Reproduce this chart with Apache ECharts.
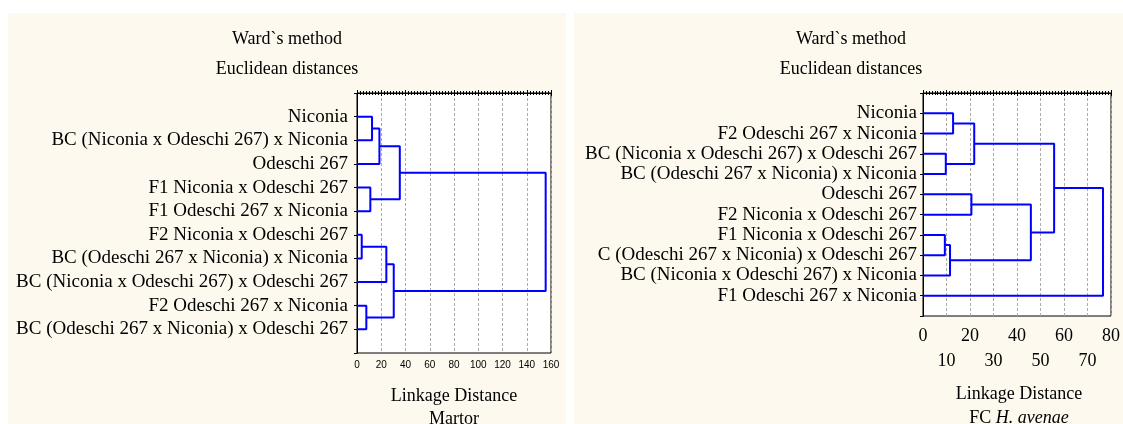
<!DOCTYPE html>
<html>
<head>
<meta charset="utf-8">
<script src="https://cdn.jsdelivr.net/npm/echarts@6/dist/echarts.min.js"></script>
<style>
  html, body { margin: 0; padding: 0; background: #fff; }
  #wrap { position: relative; width: 1123px; height: 424px; overflow: hidden; }
  .panel { position: absolute; background: #fdf9ef; }
  #main { position: absolute; left: 0; top: 0; width: 1123px; height: 424px; }
</style>
</head>
<body>
<div id="wrap">
  <div class="panel" style="left:8px;top:13px;width:558px;height:411px"></div>
  <div class="panel" style="left:574px;top:13px;width:549px;height:411px"></div>
  <div id="main"></div>
</div>
<script>
// leaves, top to bottom
var leftLeaves = [
  'Niconia',
  'BC (Niconia x Odeschi 267) x Niconia',
  'Odeschi 267',
  'F1 Niconia x Odeschi 267',
  'F1 Odeschi 267 x Niconia',
  'F2 Niconia x Odeschi 267',
  'BC (Odeschi 267 x Niconia) x Niconia',
  'BC (Niconia x Odeschi 267) x Odeschi 267',
  'F2 Odeschi 267 x Niconia',
  'BC (Odeschi 267 x Niconia) x Odeschi 267'
];
// merges: node ids (leaves 0..9, new clusters 10, 11, ...)
var leftPairs = [[5, 6], [8, 9], [3, 4], [0, 1], [13, 2], [10, 7], [15, 11], [14, 12], [17, 16]];
var leftHeights = [3.9, 7.7, 11.0, 12.4, 18.5, 24.2, 30.3, 35.3, 155.6];
var leftTicks = [0, 20, 40, 60, 80, 100, 120, 140, 160];

var rightLeaves = [
  'Niconia',
  'F2 Odeschi 267 x Niconia',
  'BC (Niconia x Odeschi 267) x Odeschi 267',
  'BC (Odeschi 267 x Niconia) x Niconia',
  'Odeschi 267',
  'F2 Niconia x Odeschi 267',
  'F1 Niconia x Odeschi 267',
  'C (Odeschi 267 x Niconia) x Odeschi 267',
  'BC (Niconia x Odeschi 267) x Niconia',
  'F1 Odeschi 267 x Niconia'
];
var rightPairs = [[6, 7], [2, 3], [10, 8], [0, 1], [4, 5], [13, 11], [14, 12], [15, 16], [17, 9]];
var rightHeights = [9.3, 9.7, 11.5, 12.8, 20.6, 21.8, 45.9, 55.8, 76.6];
var rightTicks = [0, 10, 20, 30, 40, 50, 60, 70, 80];

var serif = 'Liberation Serif';
var blue = '#0000ff';

var myChart = echarts.init(document.getElementById('main'));

function dendro(pairs, heights, axisIdx) {
  var pos = [];
  for (var i = 0; i < pairs.length + 1; i++) pos.push([0, i + 1]);
  var out = [];
  pairs.forEach(function (p, k) {
    var a = pos[p[0]], b = pos[p[1]], h = heights[k];
    out.push({
      type: 'line',
      xAxisIndex: axisIdx, yAxisIndex: axisIdx,
      data: [[a[0], a[1]], [h, a[1]], [h, b[1]], [b[0], b[1]]],
      symbol: 'none',
      lineStyle: { color: blue, width: 2 },
      silent: true,
      z: 5
    });
    pos.push([h, (a[1] + b[1]) / 2]);
  });
  return out;
}

function xAxes(grid, ticks, label) {
  var iv = ticks[1] - ticks[0];
  var base = {
    type: 'value', gridIndex: grid,
    min: ticks[0], max: ticks[ticks.length - 1], interval: iv,
    axisLine: { show: true, lineStyle: { color: '#000', width: 1 } },
    axisTick: { show: true, inside: true, length: 3, lineStyle: { color: '#000' } },
    minorTick: { show: true, splitNumber: 8, length: 2, lineStyle: { color: '#000' } }
  };
  var bottom = Object.assign({}, base, {
    position: 'bottom',
    axisLabel: label,
    splitLine: { show: true, lineStyle: { color: '#aaa', type: [3, 2], width: 1 } }
  });
  var top = Object.assign({}, base, {
    position: 'top',
    axisLabel: { show: false },
    splitLine: { show: false }
  });
  return [bottom, top];
}

function yAxes(grid, leaves, margin) {
  var base = {
    type: 'value', gridIndex: grid, inverse: true,
    min: 0, max: leaves.length + 1, interval: 1,
    splitLine: { show: false },
    axisLine: { show: true, lineStyle: { color: '#000', width: 1 } }
  };
  var left = Object.assign({}, base, {
    position: 'left',
    axisTick: { show: false },
    axisLabel: {
      margin: margin,
      fontFamily: serif, fontSize: 19, color: '#000',
      formatter: function (v) { return leaves[v - 1] || ''; }
    }
  });
  var right = Object.assign({}, base, {
    position: 'right',
    axisTick: { show: true, inside: true, length: 3, lineStyle: { color: '#000' } },
    axisLabel: { show: false }
  });
  return [left, right];
}

var leftX = xAxes(0, leftTicks, {
  margin: 7, fontFamily: 'Liberation Sans', fontSize: 10, color: '#000'
});
var rightX = xAxes(1, rightTicks, {
  margin: 8, fontFamily: serif, fontSize: 18, color: '#000', lineHeight: 25,
  formatter: function (v) { return (v / 10) % 2 === 1 ? '\n' + v : String(v); }
});

function txt(str, x, y, extra) {
  return {
    type: 'text', x: x, y: y, silent: true,
    style: Object.assign({
      text: str, fill: '#000', font: '18px "Liberation Serif"',
      textAlign: 'center', textVerticalAlign: 'middle'
    }, extra || {})
  };
}

option = {
  animation: false,
  grid: [
    { left: 357, top: 93, width: 194, height: 260, show: true, backgroundColor: '#fff', borderColor: '#000', borderWidth: 1 },
    { left: 923, top: 93, width: 192, height: 223, show: true, backgroundColor: '#fff', borderColor: '#000', borderWidth: 1 }
  ],
  xAxis: leftX.concat(rightX),
  yAxis: yAxes(0, leftLeaves, 9).concat(yAxes(1, rightLeaves, 6)),
  series: dendro(leftPairs, leftHeights, 0).concat(dendro(rightPairs, rightHeights, 2)),
  graphic: [
    txt('Ward`s method', 287, 39),
    txt('Euclidean distances', 287, 69),
    txt('Linkage Distance', 454, 396),
    txt('Martor', 454, 419),
    txt('Ward`s method', 851, 39),
    txt('Euclidean distances', 851, 69),
    txt('Linkage Distance', 1019, 394),
    txt('{a|FC }{b|H. avenae}', 1019, 418, {
      rich: {
        a: { fontFamily: serif, fontSize: 18, fill: '#000' },
        b: { fontFamily: serif, fontSize: 18, fontStyle: 'italic', fill: '#000' }
      }
    })
  ]
};

myChart.setOption(option);
</script>
</body>
</html>
